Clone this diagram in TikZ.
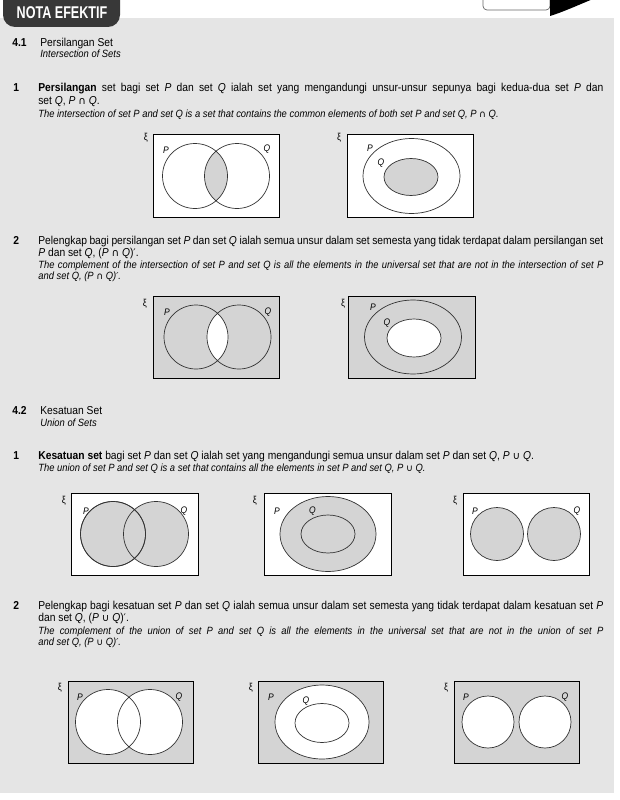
\documentclass[tikz,border=0pt]{standalone}
\usepackage{fontspec}
\setmainfont{Liberation Sans}[FakeStretch=0.895]
\newfontfamily\tabfont{Liberation Sans}[FakeStretch=0.74]
\newfontfamily\opfont{DejaVu Sans}[Scale=0.9]

\newcommand{\sP}{\textit{P}}
\newcommand{\sQ}{\textit{Q}}
\newcommand{\Inter}{{\opfont ∩}}
\newcommand{\Union}{{\opfont ∪}}
\newcommand{\Prime}{{\opfont ′}}

\begin{document}
\tolerance=9999
\hyphenpenalty=10000
\begin{tikzpicture}[x=1pt, y=-1pt, line width=0.7pt,
  bodytext/.style={anchor=base west, inner sep=0pt, font=\fontsize{11.5}{12.5}\selectfont},
  bodypara/.style={bodytext, text width=565pt, align=justify},
  engpara/.style={bodypara, font=\fontsize{10.5}{11.5}\selectfont\itshape},
  subhead/.style={bodytext, font=\fontsize{10.5}{11.5}\selectfont\itshape},
  itemnum/.style={bodytext, font=\fontsize{11.5}{12.5}\selectfont\bfseries},
  universe/.style={draw=black, line width=0.8pt},
  setcurve/.style={draw=black!80, line width=0.7pt},
  setname/.style={inner sep=0pt, font=\fontsize{9.5}{10}\selectfont\itshape},
  uniname/.style={inner sep=0pt, font=\fontsize{10}{10}\selectfont},
]

% ---------- Parameters of the page ----------
\def\NumLeft{13}     % left edge of the item numbers
\def\TextLeft{38}    % left edge of the paragraphs
\def\HeadLeft{40}    % left edge of the section titles

% ---------- Colours ----------
\colorlet{panelcolor}{black!10}
\colorlet{fillcolor}{black!17}
\colorlet{tabcolor}{black!78}

\useasboundingbox (0,0) rectangle (619,800);

% ---------- Panel, tab and corner ----------
\fill[panelcolor] (0,18) rectangle (614,793);
\fill[tabcolor, rounded corners=12] (3,-15) rectangle (120,27);
\node[text=white, inner sep=0pt, font=\fontsize{17}{17}\tabfont\bfseries] (tab) at (62,13) {NOTA EFEKTIF};
\draw[black!60, fill=white, rounded corners=4] (483,-10) rectangle (550,10);
\fill[black] (550,-1) -- (593,-1) .. controls (576,6) and (563,12) .. (550,16) -- cycle;

% ---------- 4.1 Intersection ----------
\node[itemnum] (sec41) at (12,47) {4.1};
\node[bodytext] (sec41title) at (\HeadLeft,47) {Persilangan Set};
\node[subhead] (sec41sub) at (\HeadLeft,58) {Intersection of Sets};

\node[itemnum] (numA) at (\NumLeft,92) {1};
\node[bodypara] (paraA) at (\TextLeft,92) {\textbf{Persilangan} set bagi set \sP{} dan set \sQ{} ialah set yang mengandungi unsur-unsur sepunya bagi kedua-dua set \sP{} dan\linebreak set \sQ, \sP{} \Inter{} \sQ.};
\node[engpara] (engA) at (\TextLeft,117) {The intersection of set P and set Q is a set that contains the common elements of both set P and set Q, P \Inter{} Q.};

% P intersect Q
\begin{scope}[shift={(153,134)}]
  \fill[white] (0,0) rectangle (126,83);
  \begin{scope}
    \clip (42,42) circle[radius=32.5];
    \fill[fillcolor] (84,42) circle[radius=32.5];
  \end{scope}
  \draw[setcurve] (42,42) circle[radius=32.5] (84,42) circle[radius=32.5];
  \draw[universe] (0,0) rectangle (126,83);
  \node[uniname] (xiA) at (-7,4) {ξ};
  \node[setname] (pA) at (13,16) {P};
  \node[setname] (qA) at (114,15) {Q};
\end{scope}

% Q inside P
\begin{scope}[shift={(347,134)}]
  \fill[white] (0,0) rectangle (126,83);
  \draw[setcurve] (64.5,42) ellipse[x radius=48.5, y radius=37.5];
  \draw[setcurve, fill=fillcolor] (64,43) ellipse[x radius=27, y radius=18.5];
  \draw[universe] (0,0) rectangle (126,83);
  \node[uniname] (xiB) at (-8,4) {ξ};
  \node[setname] (pB) at (23,14) {P};
  \node[setname] (qB) at (34,29) {Q};
\end{scope}

\node[itemnum] (numB) at (\NumLeft,244) {2};
\node[bodypara] (paraB) at (\TextLeft,244) {Pelengkap bagi persilangan set \sP{} dan set \sQ{} ialah semua unsur dalam set semesta yang tidak terdapat dalam persilangan set\linebreak \sP{} dan set \sQ, (\sP{} \Inter{} \sQ)\Prime.};
\node[engpara] (engB) at (\TextLeft,268) {The complement of the intersection of set P and set Q is all the elements in the universal set that are not in the intersection of set P\linebreak and set Q, (P \Inter{} Q)\Prime.};

% (P intersect Q)'
\begin{scope}[shift={(153,296)}]
  \fill[fillcolor] (0,0) rectangle (126,82);
  \begin{scope}
    \clip (43,41) circle[radius=32];
    \fill[white] (86,41) circle[radius=32];
  \end{scope}
  \draw[setcurve] (43,41) circle[radius=32] (86,41) circle[radius=32];
  \draw[universe] (0,0) rectangle (126,82);
  \node[uniname] (xiC) at (-8,8) {ξ};
  \node[setname] (pC) at (14,16) {P};
  \node[setname] (qC) at (115,16) {Q};
\end{scope}

% (Q inside P), complement of Q
\begin{scope}[shift={(348,296)}]
  \fill[fillcolor] (0,0) rectangle (127,82);
  \draw[setcurve] (65,41) ellipse[x radius=48.5, y radius=37];
  \draw[setcurve, fill=white] (66,42) ellipse[x radius=27, y radius=19];
  \draw[universe] (0,0) rectangle (127,82);
  \node[uniname] (xiD) at (-5,8) {ξ};
  \node[setname] (pD) at (25,11) {P};
  \node[setname] (qD) at (39,27) {Q};
\end{scope}

% ---------- 4.2 Union ----------
\node[itemnum] (sec42) at (12,414) {4.2};
\node[bodytext] (sec42title) at (\HeadLeft,414) {Kesatuan Set};
\node[subhead] (sec42sub) at (\HeadLeft,426) {Union of Sets};

\node[itemnum] (numC) at (\NumLeft,459) {1};
\node[bodypara] (paraC) at (\TextLeft,459) {\textbf{Kesatuan set} bagi set \sP{} dan set \sQ{} ialah set yang mengandungi semua unsur dalam set \sP{} dan set \sQ, \sP{} \Union{} \sQ.};
\node[engpara] (engC) at (\TextLeft,471) {The union of set P and set Q is a set that contains all the elements in set P and set Q, P \Union{} Q.};

% P union Q
\begin{scope}[shift={(71,493)}]
  \fill[white] (0,0) rectangle (127,82);
  \draw[setcurve, fill=fillcolor] (42,41) circle[radius=32.5] (85,41) circle[radius=32.5];
  \draw[setcurve] (42,41) circle[radius=32.5];
  \draw[universe] (0,0) rectangle (127,82);
  \node[uniname] (xiE) at (-7,8) {ξ};
  \node[setname] (pE) at (15,18) {P};
  \node[setname] (qE) at (113,18) {Q};
\end{scope}

% Q inside P, union
\begin{scope}[shift={(264,493)}]
  \fill[white] (0,0) rectangle (127,82);
  \draw[setcurve, fill=fillcolor] (64,41) ellipse[x radius=48, y radius=37.5];
  \draw[setcurve] (64,41) ellipse[x radius=27, y radius=19];
  \draw[universe] (0,0) rectangle (127,82);
  \node[uniname] (xiF) at (-9,8) {ξ};
  \node[setname] (pF) at (13,18) {P};
  \node[setname] (qF) at (48.5,18) {Q};
\end{scope}

% P and Q apart, union
\begin{scope}[shift={(463,493)}]
  \fill[white] (0,0) rectangle (126,82);
  \draw[setcurve, fill=fillcolor] (34,41) circle[radius=26.5] (91,41) circle[radius=26.5];
  \draw[universe] (0,0) rectangle (126,82);
  \node[uniname] (xiG) at (-8,8) {ξ};
  \node[setname] (pG) at (12,18) {P};
  \node[setname] (qG) at (114,18) {Q};
\end{scope}

\node[itemnum] (numD) at (\NumLeft,609) {2};
\node[bodypara] (paraD) at (\TextLeft,609) {Pelengkap bagi kesatuan set \sP{} dan set \sQ{} ialah semua unsur dalam set semesta yang tidak terdapat dalam kesatuan set \sP\linebreak dan set \sQ, (\sP{} \Union{} \sQ)\Prime.};
\node[engpara] (engD) at (\TextLeft,634) {The complement of the union of set P and set Q is all the elements in the universal set that are not in the union of set P\linebreak and set Q, (P \Union{} Q)\Prime.};

% (P union Q)'
\begin{scope}[shift={(68,681)}]
  \fill[fillcolor] (0,0) rectangle (125,82);
  \fill[white] (40,41) circle[radius=32.5] (82,41) circle[radius=32.5];
  \draw[setcurve] (40,41) circle[radius=32.5] (82,41) circle[radius=32.5];
  \draw[universe] (0,0) rectangle (125,82);
  \node[uniname] (xiH) at (-8,7) {ξ};
  \node[setname] (pH) at (12,16) {P};
  \node[setname] (qH) at (111,16) {Q};
\end{scope}

% (Q inside P), complement of P
\begin{scope}[shift={(258,681)}]
  \fill[fillcolor] (0,0) rectangle (125,82);
  \draw[setcurve, fill=white] (64,41) ellipse[x radius=47, y radius=37];
  \draw[setcurve] (64,42) ellipse[x radius=27, y radius=19.5];
  \draw[universe] (0,0) rectangle (125,82);
  \node[uniname] (xiI) at (-7,7) {ξ};
  \node[setname] (pI) at (13,16) {P};
  \node[setname] (qI) at (48,20) {Q};
\end{scope}

% P and Q apart, complement
\begin{scope}[shift={(454,681)}]
  \fill[fillcolor] (0,0) rectangle (125,82);
  \draw[setcurve, fill=white] (34,41) circle[radius=26] (91,41) circle[radius=26];
  \draw[universe] (0,0) rectangle (125,82);
  \node[uniname] (xiJ) at (-8,7) {ξ};
  \node[setname] (pJ) at (12,16) {P};
  \node[setname] (qJ) at (111,16) {Q};
\end{scope}

\end{tikzpicture}
\end{document}
